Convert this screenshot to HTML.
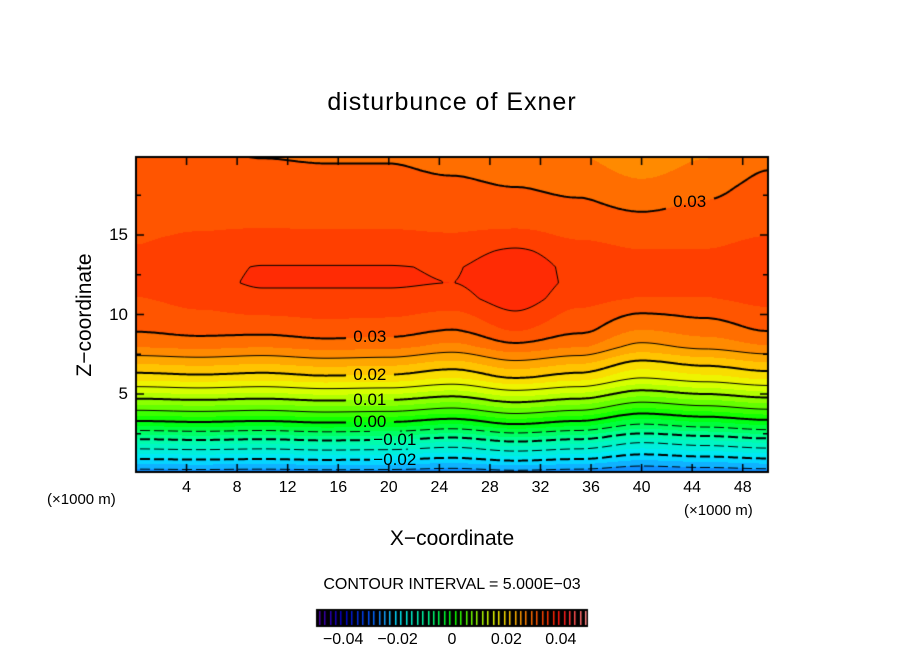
<!DOCTYPE html>
<html><head><meta charset="utf-8">
<style>
body{margin:0;background:#fff;width:904px;height:654px;overflow:hidden;font-family:"Liberation Sans",sans-serif;}
#wrap{position:relative;width:904px;height:654px;}
.t{position:absolute;color:#000;white-space:nowrap;}
canvas{position:absolute;left:0;top:0;}
</style></head><body>
<div id="wrap">
<canvas id="cv" width="904" height="654"></canvas>
<div class="t" style="left:0;width:904px;text-align:center;top:88px;font-size:25px;letter-spacing:1px;">disturbunce of Exner</div>
<div class="t" style="left:0;width:904px;text-align:center;top:527px;font-size:21px;">X&#8722;coordinate</div>
<div class="t" style="left:85px;top:315px;font-size:21px;transform:translate(-50%,-50%) rotate(-90deg);">Z&#8722;coordinate</div>
<div class="t" style="left:47px;top:491px;font-size:15px;">(×1000 m)</div>
<div class="t" style="left:684px;top:502px;font-size:15px;">(×1000 m)</div>
<div class="t" style="left:0;width:904px;text-align:center;top:576px;font-size:16px;">CONTOUR INTERVAL = 5.000E&#8722;03</div>
<div id="labels"></div>
</div>
<script>
// ---- data ----
const heights=[0,1,2,3,4,5,6,7,8,9,10,11,12,13,14,15,16,17,18,19,20];
const baseProfile=[-0.027,-0.019,-0.011,-0.0018,0.0057,0.0125,0.019,0.0235,0.0283,0.0312,0.0328,0.0344,0.0353,0.0351,0.034,0.0328,0.032,0.0315,0.031,0.0303,0.0297];
const xCols=[0,5,10,15,20,25,30,35,40,45,50];
const lowOff=[-0.0005,0,-0.0005,0.0003,0,-0.0015,0.001,-0.0005,-0.004,-0.0025,-0.001];
const midOff=[-0.002,-0.001,0,0,0,-0.0003,0.002,-0.001,-0.002,-0.002,-0.001];
const topOff=[0.001,0.0006,0.0002,0,0,-0.0006,-0.0014,-0.0022,-0.004,-0.0024,-0.0003];
const lowW=[0.3,0.6,0.9,1,1,1,1,1,1,0.8,0.4,0,0,0,0,0,0,0,0,0,0];
const midW=[0,0,0,0,0,0,0,0,0,0.3,0.7,1,1,1,0.7,0.3,0,0,0,0,0];
const topW=[0,0,0,0,0,0,0,0,0,0,0,0,0,0,0,0.15,0.35,0.55,0.7,0.85,1];
const xTicks=[4,8,12,16,20,24,28,32,36,40,44,48];
const yTicks=[5,10,15];
const cbTicks=[-0.04,-0.02,0,0.02,0.04];
const cbTickLabels=["\u22120.04","\u22120.02","0","0.02","0.04"];
const contourLabels=[{v:0.03,x:18.5},{v:0.02,x:18.5},{v:0.01,x:18.5},{v:0.00,x:18.5},{v:-0.01,x:20},{v:-0.02,x:20}];
const contourLabels2=[{v:0.03,x:43.8,t:"0.03"}];

// ---- axes ----
const L=136,R=768,T=157,B=472;
const X=x=>L+x*(R-L)/50;
const Y=z=>473.5-z*15.9;
const ZofY=y=>(473.5-y)/15.9;
const XofX=p=>(p-L)*50/(R-L);

const grid=heights.map((h,k)=>xCols.map((c,j)=>baseProfile[k]+lowW[k]*lowOff[j]+midW[k]*midOff[j]+topW[k]*topOff[j]));
function field(x,z){
  let fx=Math.max(0,Math.min(x/5,xCols.length-1.0001)),fz=Math.max(0,Math.min(z,heights.length-1.0001));
  let j=Math.floor(fx),k=Math.floor(fz),a=fx-j,b=fz-k;
  a=a*a*(3-2*a);
  return (grid[k][j]*(1-a)+grid[k][j+1]*a)*(1-b)+(grid[k+1][j]*(1-a)+grid[k+1][j+1]*a)*b;
}
const stops=[[-0.05,[80,0,160]],[-0.04,[0,0,200]],[-0.03,[0,90,255]],[-0.025,[20,160,255]],[-0.02,[0,230,255]],[-0.01,[0,255,160]],[0,[0,255,0]],[0.01,[160,255,0]],[0.015,[232,255,0]],[0.02,[255,210,0]],[0.025,[255,152,0]],[0.03,[255,96,0]],[0.035,[255,52,0]],[0.04,[255,16,16]],[0.05,[255,144,144]]];
function col(v){
  if(v<=stops[0][0])return stops[0][1];
  for(let i=1;i<stops.length;i++){if(v<=stops[i][0]){const t=(v-stops[i-1][0])/(stops[i][0]-stops[i-1][0]);return stops[i-1][1].map((c,n)=>Math.round(c+(stops[i][1][n]-c)*t));}}
  return stops[stops.length-1][1];
}
const cv=document.getElementById('cv'),ctx=cv.getContext('2d');
ctx.fillStyle='#fff';ctx.fillRect(0,0,904,654);
const img=ctx.getImageData(L,T,R-L,B-T);
for(let py=0;py<B-T;py++)for(let px=0;px<R-L;px++){
  let v=field(XofX(L+px+0.5),ZofY(T+py+0.5));
  v=(Math.floor(v/0.0025)+0.5)*0.0025;
  const c=col(v),i=(py*(R-L)+px)*4;
  img.data[i]=c[0];img.data[i+1]=c[1];img.data[i+2]=c[2];img.data[i+3]=255;
}
ctx.putImageData(img,L,T);

const boxes=[];
const lab=document.getElementById('labels');
function addLabel(txt,x,y,name){
  const d=document.createElement('div');d.className='t';
  
  
  d.style.cssText='left:'+(x-24)+'px;top:'+(y-10)+'px;width:48px;text-align:center;font-size:17px;';
  d.textContent=txt;lab.appendChild(d);boxes.push([x-24,y-9,x+24,y+9]);
}
function findY(v,x){let best=null;for(let z=0;z<20;z+=0.02){const a=field(x,z),b=field(x,z+0.02);if((a-v)*(b-v)<=0){best=z;break;}}return best;}
contourLabels.forEach(c=>{const z=findY(c.v,c.x);if(z!==null){const t=c.v<0?'\u2212'+Math.abs(c.v).toFixed(2):c.v.toFixed(2);addLabel(t,X(c.x)+(c.v<0?6:0),Y(z),'contour-label');}});
contourLabels2.forEach(c=>{let z=null;for(let zz=19.9;zz>12;zz-=0.02){const a=field(c.x,zz),b=field(c.x,zz-0.02);if((a-c.v)*(b-c.v)<=0){z=zz;break;}}if(z!==null)addLabel(c.t,X(c.x),Y(z),'contour-label');});
function inBox(x,y){return boxes.some(b=>x>b[0]&&x<b[2]&&y>b[1]&&y<b[3]);}

const S=2,nx=Math.ceil((R-L)/S),ny=Math.ceil((B-T)/S);
const F=[];for(let j=0;j<=ny;j++){F.push([]);for(let i=0;i<=nx;i++)F[j].push(field(XofX(L+i*S),ZofY(T+j*S)));}
for(let lv=-0.025;lv<=0.0351;lv+=0.005){
  const v=Math.round(lv*1000)/1000;
  const thick=Math.abs(Math.round(v*100)-v*100)<1e-6;
  ctx.strokeStyle='#000';ctx.lineWidth=thick?2:1;
  ctx.beginPath();
  for(let j=0;j<ny;j++)for(let i=0;i<nx;i++){
    const c=[F[j][i],F[j][i+1],F[j+1][i+1],F[j+1][i]];
    const p=[[0,0],[1,0],[1,1],[0,1]];const pts=[];
    for(let e=0;e<4;e++){const a=c[e],b=c[(e+1)%4];if((a-v)*(b-v)<0){const t=(v-a)/(b-a);pts.push([L+(i+p[e][0]+(p[(e+1)%4][0]-p[e][0])*t)*S,T+(j+p[e][1]+(p[(e+1)%4][1]-p[e][1])*t)*S]);}}
    if(pts.length>=2){
      const mx=(pts[0][0]+pts[1][0])/2,my=(pts[0][1]+pts[1][1])/2;
      if(inBox(mx,my))continue;
      if(v<0&&(mx%14)>9)continue;
      ctx.moveTo(pts[0][0],pts[0][1]);ctx.lineTo(pts[1][0],pts[1][1]);
      if(pts.length===4){ctx.moveTo(pts[2][0],pts[2][1]);ctx.lineTo(pts[3][0],pts[3][1]);}
    }
  }
  ctx.stroke();
}
ctx.strokeStyle='#000';ctx.lineWidth=2;ctx.strokeRect(L,T,R-L,B-T);
ctx.lineWidth=1.5;ctx.beginPath();
xTicks.forEach(t=>{ctx.moveTo(X(t),B);ctx.lineTo(X(t),B-8);ctx.moveTo(X(t),T);ctx.lineTo(X(t),T+8);});
for(let z=2.5;z<20;z+=2.5){const len=(z%5===0)?8:5;ctx.moveTo(L,Y(z));ctx.lineTo(L+len,Y(z));ctx.moveTo(R,Y(z));ctx.lineTo(R-len,Y(z));}
ctx.stroke();
xTicks.forEach(t=>{const d=document.createElement('div');d.className='t';


d.style.cssText='left:'+(X(t)-20)+'px;width:40px;text-align:center;top:479px;font-size:16px;';d.textContent=t;lab.appendChild(d);});
yTicks.forEach(t=>{const d=document.createElement('div');d.className='t';


d.style.cssText='left:90px;width:38px;text-align:right;top:'+(Y(t)-10)+'px;font-size:17px;';d.textContent=t;lab.appendChild(d);});
const cbL=316,cbR=588,cbT=609,cbB=627;
const CB=v=>cbL+(v+0.05)/0.1*(cbR-cbL);
ctx.fillStyle='#000';ctx.fillRect(cbL,cbT,cbR-cbL,cbB-cbT);
for(let v=-0.049;v<0.05;v+=0.002){const c=col(v);ctx.fillStyle='rgb('+c+')';ctx.fillRect(Math.round(CB(v)),cbT+2,1.5,cbB-cbT-4);}
cbTicks.forEach((t,i)=>{const d=document.createElement('div');d.className='t';


d.style.cssText='left:'+(CB(t)-30)+'px;width:60px;text-align:center;top:631px;font-size:16px;';d.textContent=cbTickLabels[i];lab.appendChild(d);});
</script>
</body></html>
